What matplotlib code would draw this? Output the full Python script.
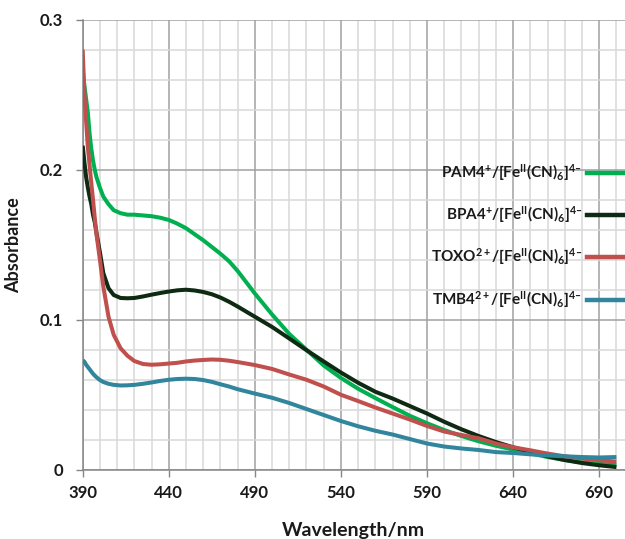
import matplotlib
matplotlib.use("Agg")
import matplotlib.pyplot as plt
from matplotlib.lines import Line2D
from matplotlib.ticker import MultipleLocator

plt.rcParams['font.family'] = ['Lato', 'DejaVu Sans']
plt.rcParams['font.weight'] = 'bold'
plt.rcParams['mathtext.fontset'] = 'custom'
plt.rcParams['mathtext.rm'] = 'Lato:bold'
plt.rcParams['mathtext.it'] = 'Lato:bold'
plt.rcParams['mathtext.bf'] = 'Lato:bold'
plt.rcParams['mathtext.default'] = 'rm'

wavelength = [390, 391, 392, 393, 394, 395, 396, 397, 398, 400, 402, 405, 408, 412, 416,
              420, 425, 430, 435, 440, 445, 450, 455, 460, 465, 470, 475, 480, 490, 500,
              510, 520, 530, 540, 550, 560, 570, 580, 590, 600, 610, 620, 630, 640, 650,
              660, 670, 680, 690, 700]

pam4 = [0.266, 0.256, 0.247, 0.238, 0.224, 0.214, 0.206, 0.200, 0.195, 0.188, 0.182, 0.177,
        0.173, 0.171, 0.170, 0.170, 0.1695, 0.169, 0.168, 0.1665, 0.164, 0.161, 0.157,
        0.153, 0.1485, 0.144, 0.139, 0.1325, 0.1175, 0.1035, 0.0905, 0.080, 0.0695, 0.0612,
        0.054, 0.0478, 0.0418, 0.036, 0.031, 0.0265, 0.0225, 0.019, 0.016, 0.0135, 0.011,
        0.0085, 0.0065, 0.005, 0.004, 0.0032]

bpa4 = [0.216, 0.205, 0.195, 0.188, 0.182, 0.177, 0.170, 0.165, 0.158, 0.145, 0.131, 0.121,
        0.1165, 0.1145, 0.1143, 0.1145, 0.1155, 0.1167, 0.1178, 0.1188, 0.1196, 0.120, 0.1195,
        0.1185, 0.117, 0.1148, 0.112, 0.1088, 0.102, 0.0952, 0.0875, 0.0797, 0.0722, 0.0648,
        0.058, 0.052, 0.0475, 0.0425, 0.0375, 0.032, 0.027, 0.0225, 0.0185, 0.015, 0.012,
        0.009, 0.0065, 0.0045, 0.003, 0.0018]

toxo = [0.280, 0.250, 0.232, 0.215, 0.203, 0.191, 0.180, 0.168, 0.157, 0.140, 0.122, 0.102,
        0.090, 0.081, 0.076, 0.0725, 0.0705, 0.0700, 0.0703, 0.0708, 0.0713, 0.0722, 0.0728,
        0.0732, 0.0735, 0.0733, 0.0727, 0.0718, 0.0698, 0.0672, 0.0635, 0.060, 0.0555, 0.050,
        0.0458, 0.0415, 0.0375, 0.0335, 0.0292, 0.0255, 0.0232, 0.021, 0.0175, 0.015, 0.013,
        0.0108, 0.009, 0.0075, 0.0063, 0.0055]

tmb4 = [0.073, 0.072, 0.070, 0.0685, 0.067, 0.0655, 0.064, 0.0628, 0.0617, 0.0598, 0.0585,
        0.0573, 0.0566, 0.0562, 0.0563, 0.0566, 0.0573, 0.0582, 0.0592, 0.0600, 0.0605,
        0.0607, 0.0605, 0.0598, 0.0586, 0.0570, 0.0555, 0.0537, 0.0508, 0.0480, 0.0445,
        0.0405, 0.0365, 0.0325, 0.029, 0.026, 0.0235, 0.0205, 0.0175, 0.0155, 0.0142,
        0.0132, 0.0118, 0.0112, 0.0103, 0.0095, 0.0090, 0.0085, 0.0082, 0.0085]

DASH = '\u2013'
labels = ['PAM4$^{+}$/[Fe$^{\\mathrm{II}}$(CN)$_{6}$]$^{4' + DASH + '}$',
          'BPA4$^{+}$/[Fe$^{\\mathrm{II}}$(CN)$_{6}$]$^{4' + DASH + '}$',
          'TOXO$^{2+}$/[Fe$^{\\mathrm{II}}$(CN)$_{6}$]$^{4' + DASH + '}$',
          'TMB4$^{2+}$/[Fe$^{\\mathrm{II}}$(CN)$_{6}$]$^{4' + DASH + '}$']
colors = ['#00B050', '#0F2A12', '#C0504D', '#31859C']
series = [pam4, bpa4, toxo, tmb4]

fig = plt.figure(figsize=(6.25, 5.39), dpi=100)
ax = fig.add_axes([0.1323, 0.1284, 1.0 - 0.1323, 0.9636 - 0.1284])

for vals, c in zip(series, colors):
    ax.plot(wavelength, vals, color=c, lw=2.9, solid_capstyle='butt', zorder=3)

ax.set_xlim(390, 705)
ax.set_ylim(0, 0.3)
ax.xaxis.set_major_locator(MultipleLocator(50))
ax.xaxis.set_minor_locator(MultipleLocator(10))
ax.yaxis.set_major_locator(MultipleLocator(0.1))
ax.yaxis.set_minor_locator(MultipleLocator(0.02))
ax.set_xticks([390, 440, 490, 540, 590, 640, 690])
ax.set_yticks([0, 0.1, 0.2, 0.3])
ax.set_yticklabels(['0', '0.1', '0.2', '0.3'])

ax.grid(which='minor', color='#d9d9d9', lw=1.1, zorder=0)
ax.grid(which='major', color='#a0a0a0', lw=1.1, zorder=0)
ax.tick_params(which='minor', length=0)
ax.tick_params(which='major', length=5, color='#868686', width=1.0, labelsize=12,
               direction='out', labelcolor='#1a1a1a')
ax.tick_params(axis='y', pad=9)
ax.tick_params(axis='x', pad=6)
for s in ['top', 'right']:
    ax.spines[s].set_visible(False)
for s in ['left', 'bottom']:
    ax.spines[s].set_color('#868686')
    ax.spines[s].set_linewidth(1.1)
ax.set_axisbelow(True)

ax.set_xlabel('Wavelength/nm', fontsize=14, fontweight='bold', labelpad=15, color='#1a1a1a')
ax.set_ylabel('Absorbance', fontsize=13, fontweight='bold', labelpad=13, color='#1a1a1a')

leg_y = [0.6796, 0.6011, 0.5232, 0.4434]
for lab, c, yy in zip(labels, colors, leg_y):
    fig.text(0.931, yy, lab, ha='right', va='center', fontsize=11, fontweight='bold',
             color='#1a1a1a')
    fig.add_artist(Line2D([0.939, 1.02], [yy, yy], color=c, lw=3.2,
                          transform=fig.transFigure, clip_on=False))

fig.savefig('out.png', dpi=100)
